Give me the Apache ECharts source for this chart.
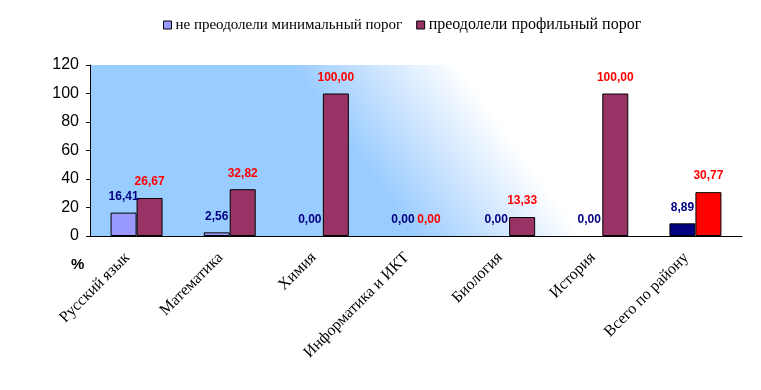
<!DOCTYPE html>
<html><head><meta charset="utf-8">
<script src="https://cdn.jsdelivr.net/npm/echarts@6/dist/echarts.min.js"></script>
<style>html,body{margin:0;padding:0;background:#fff}#c{width:761px;height:390px}</style>
</head><body><div id="c"></div>
<script>
const categories = ['Русский язык','Математика','Химия','Информатика и ИКТ','Биология','История','Всего по району'];
const seriesNames = ['не преодолели минимальный порог','преодолели профильный порог'];
const notPassedMin = [16.41, 2.56, 0, 0, 0, 0, 8.89];
const passedProfile = [26.67, 32.82, 100, 0, 13.33, 100, 30.77];
const yTicks = {min: 0, max: 120, interval: 20};

const fmt = p => p.value.toFixed(2).replace('.', ',');
const lastIdx = categories.length - 1;
function items(arr, lastColor) {
  return arr.map((v, i) => {
    const it = {value: v};
    const st = {};
    if (i === lastIdx) st.color = lastColor;
    if (v === 0) st.borderWidth = 0;
    if (Object.keys(st).length) it.itemStyle = st;
    return it;
  });
}
const labelBase = {show: true, position: 'top', distance: 10, fontFamily: 'Liberation Sans', fontWeight: 'bold', fontSize: 12, formatter: fmt};

const chart = echarts.init(document.getElementById('c'));
chart.setOption({
  animation: false,
  legend: {
    left: 158, top: 12, itemWidth: 8, itemHeight: 8, itemGap: 14, icon: 'rect',
    itemStyle: {borderColor: '#000', borderWidth: 1},
    formatter: name => name === seriesNames[1] ? '{b|' + name + '}' : '{a|' + name + '}',
    textStyle: {fontFamily: 'Liberation Serif', fontSize: 15, color: '#000', padding: [0,0,0,-1],
      rich: {a: {fontFamily: 'Liberation Serif', fontSize: 15, color: '#000'},
             b: {fontFamily: 'Liberation Serif', fontSize: 16, color: '#000'}}},
    data: seriesNames
  },
  grid: {
    left: 90, right: 19, top: 65, bottom: 154, show: true, borderWidth: 0,
    backgroundColor: {
      type: 'linear', global: true, x: 290, y: 65, x2: 400, y2: -15,
      colorStops: [{offset: 0, color: '#99CCFF'}, {offset: 0.45, color: '#C8E2FF'}, {offset: 1, color: '#FFFFFF'}]
    }
  },
  graphic: [{type: 'text', left: 71, top: 257, style: {text: '%', font: 'bold 15px "Liberation Sans"', fill: '#000'}}],
  xAxis: {
    type: 'category', data: categories,
    axisLine: {lineStyle: {color: '#000', width: 1}},
    axisTick: {length: 5, lineStyle: {color: '#000'}},
    axisLabel: {rotate: 45, margin: 10, interval: 0, padding: [0, 13, 0, 0], fontFamily: 'Liberation Serif', fontSize: 16, color: '#000'}
  },
  yAxis: {
    type: 'value', min: yTicks.min, max: yTicks.max, interval: yTicks.interval,
    splitLine: {show: false},
    axisLine: {show: true, lineStyle: {color: '#000', width: 1}},
    axisTick: {show: true, length: 4, lineStyle: {color: '#000'}},
    axisLabel: {margin: 11, fontFamily: 'Liberation Sans', fontSize: 16, color: '#000'}
  },
  series: [
    {name: seriesNames[0], type: 'bar', barWidth: 26, barGap: '0%',
     itemStyle: {color: '#9999FF', borderColor: '#000', borderWidth: 1},
     label: Object.assign({}, labelBase, {color: '#000080'}),
     data: items(notPassedMin, '#000080')},
    {name: seriesNames[1], type: 'bar', barWidth: 26, barGap: '0%',
     itemStyle: {color: '#993366', borderColor: '#000', borderWidth: 1},
     label: Object.assign({}, labelBase, {color: '#FF0000'}),
     data: items(passedProfile, '#FF0000')}
  ]
});
</script></body></html>
